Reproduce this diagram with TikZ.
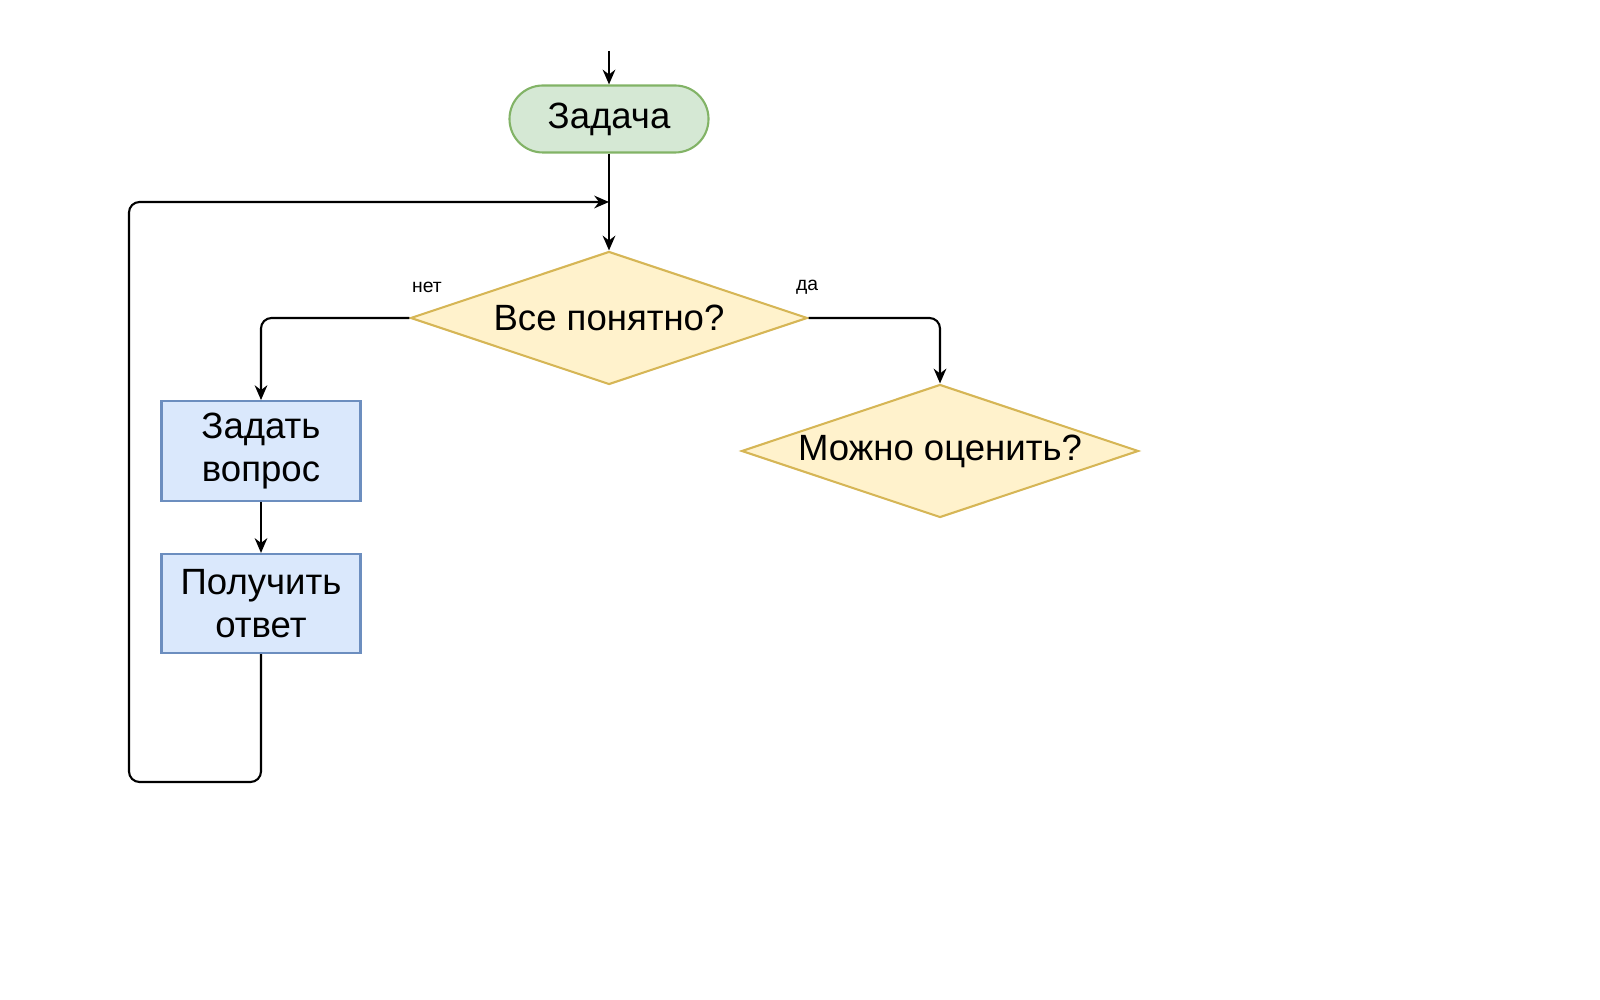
\documentclass[tikz,border=0pt]{standalone}
\usepackage{fontspec}
\setmainfont{Liberation Sans}
\usepackage{xcolor}
\usepackage{tikz}
\usetikzlibrary{arrows.meta, shapes.geometric, positioning}

\definecolor{startfill}{HTML}{D5E8D4}
\definecolor{startline}{HTML}{82B366}
\definecolor{askfill}{HTML}{FFF2CC}
\definecolor{askline}{HTML}{D6B656}
\definecolor{stepfill}{HTML}{DAE8FC}
\definecolor{stepline}{HTML}{6C8EBF}

\begin{document}
\begin{tikzpicture}[line width=0.6pt,
    every node/.style = {align=center, font=\fontsize{10.4}{12.3}\selectfont},
    startbox/.style = {rectangle, rounded corners=9.5pt, draw=startline, fill=startfill, minimum width=1.99cm, minimum height=0.67cm},
    askbox/.style = {diamond, aspect=3, draw=askline, fill=askfill, inner xsep=-3pt, inner ysep=0pt, minimum width=3.97cm, minimum height=1.33cm},
    stepbox/.style = {rectangle, draw=stepline, fill=stepfill, minimum width=1.99cm, minimum height=0.99cm},
    smalltext/.style = {font=\fontsize{5.5}{6}\selectfont},
    arr/.style = {-{Stealth[length=4.2pt, width=3.6pt]}, rounded corners=3pt}]
    \useasboundingbox (0,0) rectangle (16,-10);
    \node[startbox] (task) at (6.09,-1.19) {Задача};
    \node[askbox] (clear) at (6.09,-3.18) {Все понятно?};
    \node[askbox] (rate) at (9.40,-4.51) {Можно оценить?};
    \node[stepbox] (ask) at (2.61,-4.51) {Задать\\вопрос};
    \node[stepbox, below=0.51cm of ask] (answer) {Получить\\ответ};
    \node[smalltext] (no) at (4.27,-2.87) {нет};
    \node[smalltext] (yes) at (8.07,-2.87) {да};
    \coordinate (in) at (6.09,-0.51);
    \coordinate (join) at (6.09,-2.02);
    \coordinate (loop) at (1.29,-7.82);
    \draw[arr] (in) -- (task);
    \draw[arr] (task) -- (clear);
    \draw[arr] (clear.west) -| (ask.north);
    \draw[arr] (clear.east) -| (rate.north);
    \draw[arr] (ask) -- (answer);
    \draw[arr] (answer.south) |- (loop) |- (join);
\end{tikzpicture}
\end{document}
